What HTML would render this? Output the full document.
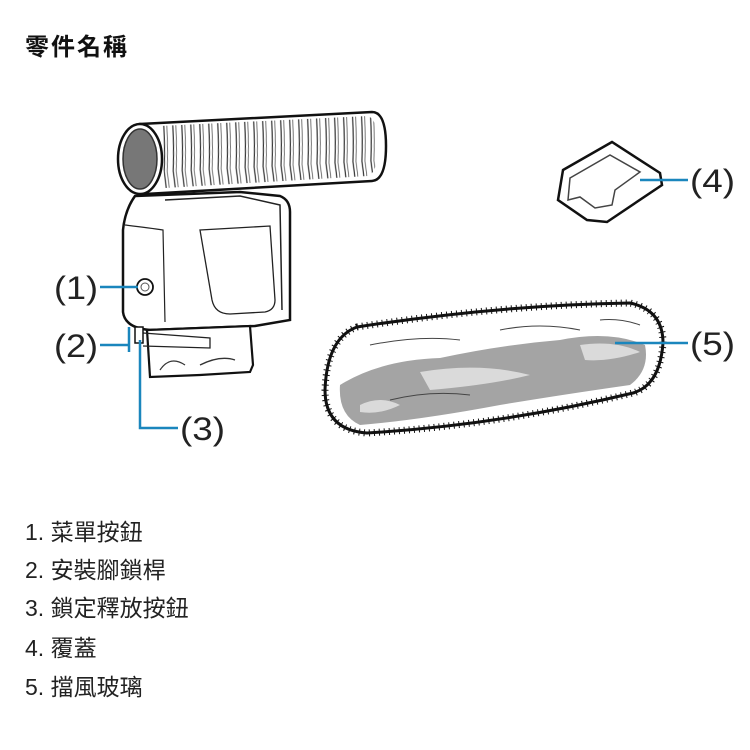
<!DOCTYPE html>
<html><head><meta charset="utf-8"><style>
body{margin:0;background:#fff;width:750px;height:750px;overflow:hidden;position:relative;font-family:"Liberation Sans","Noto Sans CJK TC",sans-serif;color:#111}
.t{position:absolute;left:25px;top:33px;font-size:24px;font-weight:bold;letter-spacing:2px;line-height:30px}
.l{position:absolute;left:25px;font-size:23px;line-height:28px;color:#222}
svg{position:absolute;left:0;top:0}
</style></head><body>
<svg width="750" height="750" viewBox="0 0 750 750">
<defs><pattern id="rib" width="9" height="90" patternUnits="userSpaceOnUse" patternTransform="rotate(-3)"><path d="M2 0 Q6 45 2 90" stroke="#333" stroke-width="1.2" fill="none"/><path d="M5 0 Q9 45 5 90" stroke="#555" stroke-width="0.8" fill="none"/></pattern></defs>
<path d="M140 124 L372 112 Q386 112 386 146 Q386 180 372 181 L145 194 Z" fill="#fff" stroke="#111" stroke-width="2.5"/>
<path d="M160 126 L368 116 Q378 120 378 146 Q378 172 368 176 L165 188 Z" fill="url(#rib)"/>
<ellipse cx="140" cy="159" rx="22" ry="35" fill="#fff" stroke="#111" stroke-width="2.5"/>
<ellipse cx="140" cy="159" rx="17" ry="30" fill="#777" stroke="#333" stroke-width="1.5"/>
<path d="M135 196 L240 192 L280 196 Q290 200 290 212 L290 320 L255 326 L150 330 Q125 328 123 312 L123 230 Q125 210 135 196 Z" fill="#fff" stroke="#111" stroke-width="2.5"/>
<path d="M165 200 L240 196 L280 205 L282 310" fill="none" stroke="#222" stroke-width="1.5"/>
<path d="M125 225 Q150 228 163 230 L165 322" fill="none" stroke="#222" stroke-width="1.2"/>
<path d="M200 230 L270 226 L275 300 Q275 310 265 312 L230 314 Q215 314 212 300 Z" fill="none" stroke="#222" stroke-width="1.3"/>
<circle cx="145" cy="287" r="8" fill="#fff" stroke="#111" stroke-width="1.8"/>
<circle cx="145" cy="287" r="4" fill="#fff" stroke="#555" stroke-width="1"/>
<path d="M147 330 L250 326 L253 365 L250 372 L200 375 L150 377 Z" fill="#fff" stroke="#111" stroke-width="2.2"/>
<path d="M143 333 L210 338 L210 348 L143 346" fill="none" stroke="#222" stroke-width="1.3"/>
<path d="M160 370 Q170 355 185 365 M200 365 Q220 355 235 360" fill="none" stroke="#333" stroke-width="1.3"/>
<rect x="135" y="327" width="8" height="16" fill="#fff" stroke="#111" stroke-width="1.5"/>
<path d="M563 170 L612 142 L660 173 L662 185 L607 222 L587 220 L558 200 Z" fill="#fff" stroke="#111" stroke-width="2.5"/>
<path d="M570 178 L610 155 L640 172 L615 190 L612 205 L595 208 L580 197 L568 200 Z" fill="none" stroke="#444" stroke-width="1.5"/>
<path d="M357 327 Q500 305 630 303 Q663 310 663 343 Q660 385 633 393 Q500 425 367 433 Q325 430 325 390 Q327 338 357 327 Z" fill="#fff" stroke="#111" stroke-width="3"/>
<path d="M357 327 Q500 305 630 303 Q663 310 663 343 Q660 385 633 393 Q500 425 367 433 Q325 430 325 390 Q327 338 357 327 Z" fill="none" stroke="#111" stroke-width="7" stroke-dasharray="1 4"/>
<path d="M340 385 Q380 360 440 358 Q500 345 560 340 Q610 330 645 345 Q650 370 630 385 Q560 395 500 405 Q420 420 360 425 Q338 415 340 385 Z" fill="#a4a4a4"/>
<path d="M420 372 Q480 362 530 375 Q490 385 430 390 Z M580 345 Q615 340 640 352 Q610 362 585 360 Z M360 405 Q380 395 400 405 Q380 415 360 412 Z" fill="#dadada"/>
<path d="M370 345 Q420 335 460 340 M500 330 Q540 322 580 330 M390 400 Q430 390 470 395 M600 320 Q620 318 640 325" fill="none" stroke="#444" stroke-width="1"/>
<g stroke="#1a86bd" stroke-width="2.5" fill="none">
<path d="M100 287 H138"/>
<path d="M100 345 H129 M129 327 V352"/>
<path d="M140 340 V428 H178"/>
<path d="M640 180 H688"/>
<path d="M615 343 H688"/>
</g>
<g font-family="Liberation Sans,sans-serif" font-size="32" fill="#222">
<text x="54" y="299" textLength="44" lengthAdjust="spacingAndGlyphs">(1)</text>
<text x="54" y="357" textLength="44" lengthAdjust="spacingAndGlyphs">(2)</text>
<text x="180" y="440" textLength="45" lengthAdjust="spacingAndGlyphs">(3)</text>
<text x="690" y="192" textLength="45" lengthAdjust="spacingAndGlyphs">(4)</text>
<text x="690" y="355" textLength="45" lengthAdjust="spacingAndGlyphs">(5)</text>
</g>
</svg>
<div class="t">零件名稱</div>
<div class="l" style="top:518px">1. 菜單按鈕</div>
<div class="l" style="top:556px">2. 安裝腳鎖桿</div>
<div class="l" style="top:594px">3. 鎖定釋放按鈕</div>
<div class="l" style="top:634px">4. 覆蓋</div>
<div class="l" style="top:673px">5. 擋風玻璃</div>
</body></html>
